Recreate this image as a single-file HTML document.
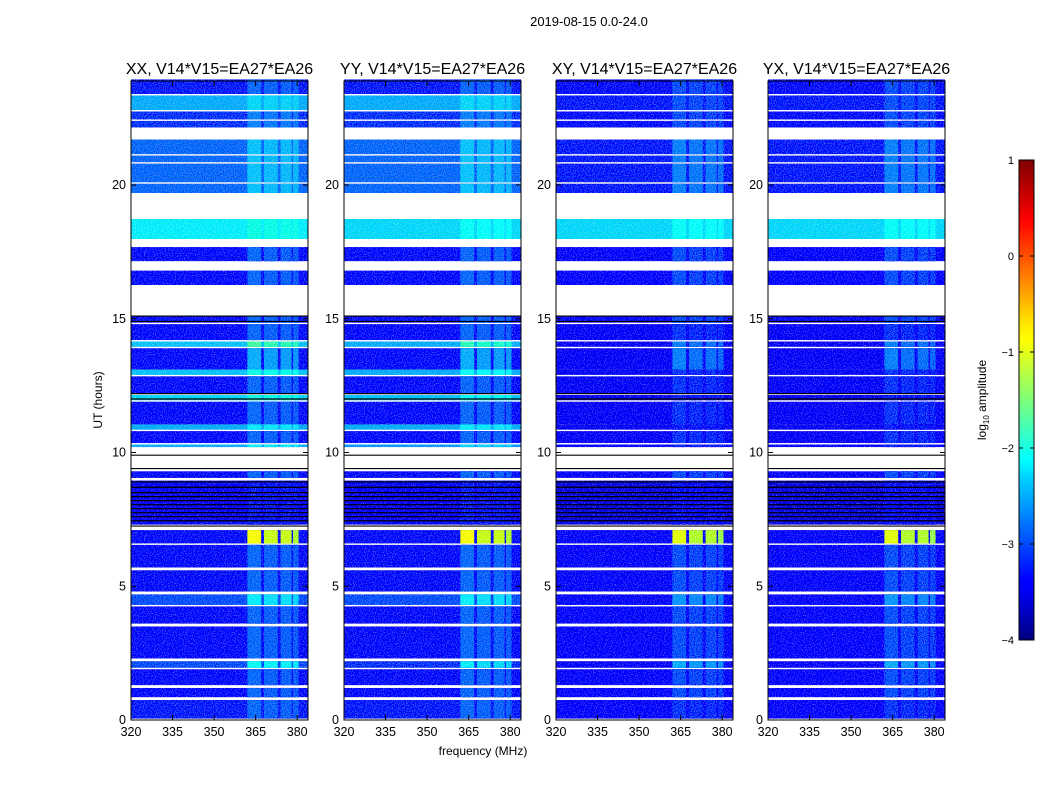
<!DOCTYPE html>
<html><head><meta charset="utf-8"><style>
body{margin:0;background:#fff;font-family:"Liberation Sans",sans-serif;}
svg text{font-family:"Liberation Sans",sans-serif;}
</style></head><body>
<svg id="fig" width="1050" height="800">
<defs>
<filter id="noise" x="0" y="0" width="1" height="1">
<feTurbulence type="fractalNoise" baseFrequency="0.9" numOctaves="1" seed="3" result="t"/>
<feColorMatrix in="t" type="matrix" values="1 0 0 0 0  1 0 0 0 0  1 0 0 0 0  0 0 0 0 1" result="gray"/>
<feComposite in="SourceGraphic" in2="gray" operator="arithmetic" k1="0" k2="1" k3="0.45" k4="-0.25" result="m"/>
<feComposite in="m" in2="SourceAlpha" operator="in"/>
</filter>
<linearGradient id="cbar" x1="0" y1="1" x2="0" y2="0">
<stop offset="0" stop-color="#00007f"/><stop offset="0.11" stop-color="#0000ff"/><stop offset="0.125" stop-color="#0000ff"/>
<stop offset="0.34" stop-color="#00d4ff"/><stop offset="0.375" stop-color="#00ffff"/><stop offset="0.5" stop-color="#7dff7a"/>
<stop offset="0.625" stop-color="#ffff00"/><stop offset="0.66" stop-color="#ffe600"/><stop offset="0.875" stop-color="#ff0000"/><stop offset="1" stop-color="#7f0000"/>
</linearGradient>
</defs>
<text x="589" y="26" font-size="13" text-anchor="middle">2019-08-15 0.0-24.0</text>
<text x="483" y="755" font-size="12" text-anchor="middle">frequency (MHz)</text>
<text transform="translate(102,400) rotate(-90)" font-size="12" text-anchor="middle">UT (hours)</text>
<g id="panels"></g>
<g>
<rect x="1019" y="160" width="15" height="480" fill="url(#cbar)" stroke="#000" stroke-width="1"/>
<text transform="translate(986,400) rotate(-90)" font-size="12" text-anchor="middle">log<tspan font-size="8" dy="3">10</tspan><tspan dy="-3"> amplitude</tspan></text>
<g id="cbticks"></g>
</g>
</svg>
<script>
const panelTitles=["XX, V14*V15=EA27*EA26","YY, V14*V15=EA27*EA26","XY, V14*V15=EA27*EA26","YX, V14*V15=EA27*EA26"];
const xTicks=[320,335,350,365,380];
const yTicks=[0,5,10,15,20];
const cbTicks=[1,0,-1,-2,-3,-4];
const segStart=[23.4,22.8,22.45,22.15,21.15,20.85,20.1,19.7,17.98,17.15,16.26,14.85,14.2,13.95,13.1,12.9,12.2,11.95,11.05,10.85,10.35,10.2,9.05,7.3,6.6,5.7,4.8,4.3,3.6,2.3,1.95,1.3,0.85,0.05];
const segEnd=  [23.95,23.35,22.75,22.4,21.7,21.1,20.8,20.05,18.73,17.68,16.8,15.1,14.8,14.15,13.9,13.1,12.85,12.15,11.9,11.05,10.8,10.3,9.3,8.95,7.1,6.55,5.6,4.7,4.25,3.5,2.2,1.9,1.2,0.75];
const ampXX=[-3.1,-2.5,-3.0,-3.0,-2.8,-2.8,-2.8,-2.8,-2.2,-3.2,-3.2,-3.2,-3.2,-2.4,-3.2,-2.4,-3.2,-2.3,-3.2,-2.5,-3.2,-2.5,-3.2,-3.4,-3.2,-3.2,-3.2,-2.9,-3.2,-3.2,-2.9,-3.2,-3.2,-3.1];
const ampYY=[-3.1,-2.5,-3.0,-3.0,-2.8,-2.8,-2.8,-2.8,-2.3,-3.2,-3.2,-3.2,-3.2,-2.5,-3.2,-2.5,-3.2,-2.4,-3.2,-2.5,-3.2,-2.6,-3.2,-3.4,-3.2,-3.2,-3.2,-2.9,-3.2,-3.2,-3.0,-3.2,-3.2,-3.1];
const ampXY=[-3.2,-3.1,-3.2,-3.2,-3.1,-3.1,-3.1,-3.1,-2.3,-3.3,-3.3,-3.3,-3.4,-3.4,-3.4,-3.4,-3.4,-3.4,-3.4,-3.4,-3.4,-3.4,-3.3,-3.5,-3.3,-3.3,-3.3,-3.3,-3.3,-3.3,-3.3,-3.3,-3.3,-3.3];
const ampYX=ampXY.slice();
const rfiBoost=[0.3,0.2,0.3,0.3,0.4,0.4,0.4,0.4,0.2,0.4,0.4,0.4,0.4,0.7,0.7,0.4,0.4,0.3,0.4,0.3,0.4,0.3,0.4,0.3,2.3,0.4,0.4,0.7,0.4,0.4,0.8,0.4,0.4,0.3];
const blackLines=[9.9,9.4,8.9,8.7,8.5,8.35,8.2,8.05,7.9,7.75,7.6,7.45,7.25,15.1,14.9,12.2,12.0];
const rfiLo=[362,368,374,378.5];
const rfiHi=[367,373,378,380.5];
const amps=[ampXX,ampYY,ampXY,ampYX];
const panelX=[131,344,556,768], PW=177, PT=81, PB=720;
const fx=(p,f)=>panelX[p]+(f-320)*2.77;
const fy=h=>PB-h*26.75;
const NS="http://www.w3.org/2000/svg";
function jet(v){let t=(v+4)/5;t=Math.max(0,Math.min(1,t));
 const c=x=>Math.round(255*Math.max(0,Math.min(1,x)));
 return `rgb(${c(1.5-Math.abs(4*t-3))},${c(1.5-Math.abs(4*t-2))},${c(1.5-Math.abs(4*t-1))})`;}
function mk(tag,attrs,parent){const e=document.createElementNS(NS,tag);for(const k in attrs)e.setAttribute(k,attrs[k]);parent.appendChild(e);return e;}
const root=document.getElementById('panels');
for(let p=0;p<4;p++){
 const g=mk('g',{},root);
 
 
 const hm=mk('g',{filter:'url(#noise)'},g);
 
 
 for(let i=0;i<segStart.length;i++){
  const y1=fy(segEnd[i]),y2=fy(segStart[i]);
  const r=mk('rect',{x:panelX[p],y:y1,width:PW,height:y2-y1,fill:jet(amps[p][i])},hm);
  
  
  for(let k=0;k<rfiLo.length;k++){
   const b=rfiBoost[i]*(k===0?1:k===3?0.85:0.9);
   const c=mk('rect',{x:fx(p,rfiLo[k]),y:y1,width:fx(p,rfiHi[k])-fx(p,rfiLo[k]),height:y2-y1,fill:jet(amps[p][i]+b)},hm);
   
   
  }
 }
 for(const h of blackLines){
  const l=mk('line',{x1:panelX[p],x2:panelX[p]+PW,y1:fy(h),y2:fy(h),stroke:'#000',"stroke-width":1.2},g);
  
  
 }
 const fr=mk('rect',{x:panelX[p],y:PT,width:PW,height:PB-PT,fill:'none',stroke:'#000','stroke-width':1},g);
 
 
 const t=mk('text',{x:panelX[p]+PW/2,y:74,'font-size':16,'text-anchor':'middle'},g);
 t.textContent=panelTitles[p];
 
 
 for(const v of xTicks){const x=fx(p,v);
  mk('line',{x1:x,x2:x,y1:PB,y2:PB-5,stroke:'#000'},g);mk('line',{x1:x,x2:x,y1:PT,y2:PT+5,stroke:'#000'},g);
  const tx=mk('text',{x:x,y:736,'font-size':12.5,'text-anchor':'middle'},g);tx.textContent=v;
  
  }
 for(const v of yTicks){const y=fy(v);
  mk('line',{x1:panelX[p],x2:panelX[p]+5,y1:y,y2:y,stroke:'#000'},g);mk('line',{x1:panelX[p]+PW,x2:panelX[p]+PW-5,y1:y,y2:y,stroke:'#000'},g);
  const ty=mk('text',{x:panelX[p]-5,y:y+4,'font-size':12.5,'text-anchor':'end'},g);ty.textContent=v;
  
  }
}
const cb=document.getElementById('cbticks');
for(const v of cbTicks){const y=160+(1-v)/5*480;
 mk('line',{x1:1019,x2:1023,y1:y,y2:y,stroke:'#000'},cb);mk('line',{x1:1034,x2:1030,y1:y,y2:y,stroke:'#000'},cb);
 const t=mk('text',{x:1014,y:y+4,'font-size':11,'text-anchor':'end'},cb);t.textContent=(v<0?'\u2212'+(-v):v);
 
 }
</script>
</body></html>
